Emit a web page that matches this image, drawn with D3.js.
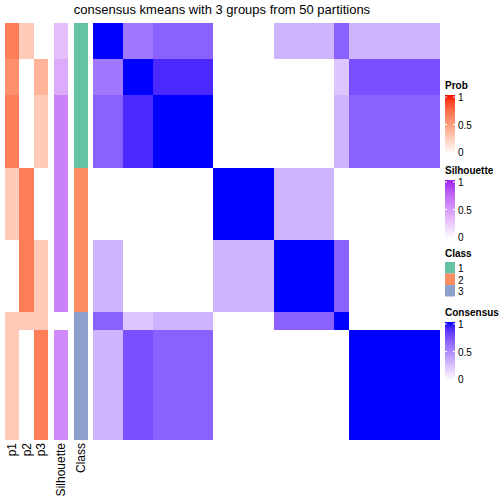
<!DOCTYPE html>
<html><head><meta charset="utf-8">
<script src="https://cdn.jsdelivr.net/npm/d3@7/dist/d3.min.js"></script>
<style>body{margin:0;background:#fff}svg{display:block}text{font-family:"Liberation Sans",Arial,sans-serif}rect.c{shape-rendering:crispEdges}</style>
</head><body>
<script>
// ---- data ----
const title = "consensus kmeans with 3 groups from 50 partitions";
// sample blocks (in display order) and number of samples in each block
const blocks = ["A","B","C","D","E","F","G"];
const blockSizes = [2,2,4,4,4,1,6];
const blockClass = [1,1,1,2,2,3,3];
const probP1 = [0.66,0.58,0.66,0.28,0,0.28,0.28];
const probP2 = [0.28,0,0,0.66,0.66,0.28,0];
const probP3 = [0,0.4,0.28,0,0.28,0.28,0.66];
const silhouette = [0.32,0.42,0.62,0.62,0.62,0,0.58];
// block-level consensus matrix
const consensus = [
  [1.00,0.58,0.68,0.00,0.32,0.68,0.32],
  [0.58,1.00,0.90,0.00,0.00,0.24,0.75],
  [0.68,0.90,1.00,0.00,0.00,0.32,0.68],
  [0.00,0.00,0.00,1.00,0.32,0.00,0.00],
  [0.32,0.00,0.00,0.32,1.00,0.68,0.00],
  [0.68,0.24,0.32,0.00,0.68,1.00,0.00],
  [0.32,0.75,0.68,0.00,0.00,0.00,1.00]
];
const classColors = {1:"#66C2A5",2:"#FC8D62",3:"#8DA0CB"};
const classLabels = ["1","2","3"];
const annNames = ["p1","p2","p3","Silhouette","Class"];
const legendTicks = [1,0.5,0];

// ---- expand blocks into samples ----
const samples = [];
blocks.forEach((b,i)=>{ for(let k=0;k<blockSizes[i];k++) samples.push({id:b+k, block:i}); });

const W=504,H=504;
const svg = d3.select("body").append("svg").attr("width",W).attr("height",H);

const x = d3.scaleBand().domain(samples.map(s=>s.id)).range([93,439]);
const y = d3.scaleBand().domain(samples.map(s=>s.id)).range([23,439]);

const probCol = d3.scaleLinear().domain([0,1]).range(["#ffffff","#ff0000"]).interpolate(d3.interpolateLab);
const silCol = d3.scaleLinear().domain([0,1]).range(["#ffffff","#A020F0"]).interpolate(d3.interpolateLab);
const consCol = d3.scaleLinear().domain([0,1]).range(["#ffffff","#0000ff"]).interpolate(d3.interpolateLab);

// heatmap
const cells=[];
samples.forEach(r=>samples.forEach(c=>cells.push({r,c,v:consensus[r.block][c.block]})));
svg.append("g").selectAll("rect").data(cells).join("rect").attr("class","c")
  .attr("x",d=>x(d.c.id)).attr("y",d=>y(d.r.id))
  .attr("width",x.bandwidth()+0.6).attr("height",y.bandwidth()+0.6)
  .attr("fill",d=>consCol(d.v));

// annotation columns
const px = d3.scaleBand().domain(["p1","p2","p3"]).range([5,48]);
const probArr = {p1:probP1,p2:probP2,p3:probP3};
const ag = svg.append("g");
["p1","p2","p3"].forEach(p=>{
  ag.append("g").selectAll("rect").data(samples).join("rect").attr("class","c")
    .attr("x",px(p)).attr("y",d=>y(d.id)).attr("width",px.bandwidth()+0.4).attr("height",y.bandwidth()+0.6)
    .attr("fill",d=>probCol(probArr[p][d.block]));
});
const ax = {Silhouette:[54,14], Class:[74,14]};
ag.append("g").selectAll("rect").data(samples).join("rect").attr("class","c")
  .attr("x",ax.Silhouette[0]).attr("y",d=>y(d.id)).attr("width",ax.Silhouette[1]).attr("height",y.bandwidth()+0.6)
  .attr("fill",d=>silCol(silhouette[d.block]));
ag.append("g").selectAll("rect").data(samples).join("rect").attr("class","c")
  .attr("x",ax.Class[0]).attr("y",d=>y(d.id)).attr("width",ax.Class[1]).attr("height",y.bandwidth()+0.6)
  .attr("fill",d=>classColors[blockClass[d.block]]);

// annotation names
const annX = {p1:px("p1")+px.bandwidth()/2, p2:px("p2")+px.bandwidth()/2, p3:px("p3")+px.bandwidth()/2,
  Silhouette:ax.Silhouette[0]+7, Class:ax.Class[0]+7};
annNames.forEach(n=>{
  svg.append("text").attr("transform",`translate(${annX[n]+4},443) rotate(-90)`)
    .attr("text-anchor","end").attr("font-size",12).text(n);
});

// title
svg.append("text").attr("x",222).attr("y",14).attr("text-anchor","middle").attr("font-size",13).text(title);

// legends
const defs = svg.append("defs");
function gradLegend(id, name, col, top){
  const g = svg.append("g");
  g.append("text").attr("x",445).attr("y",top).attr("font-size",10).attr("font-weight","bold").text(name);
  const lg = defs.append("linearGradient").attr("id",id).attr("x1",0).attr("y1",1).attr("x2",0).attr("y2",0);
  d3.range(0,1.01,0.1).forEach(t=>lg.append("stop").attr("offset",t).attr("stop-color",col(t)));
  const ly = d3.scaleLinear().domain([0,1]).range([top+63,top+8]);
  g.append("rect").attr("x",445).attr("y",ly(1)-2).attr("width",10).attr("height",ly(0)-ly(1)+4).attr("fill",`url(#${id})`);
  legendTicks.forEach(t=>{
    g.append("line").attr("x1",445).attr("x2",447).attr("y1",ly(t)).attr("y2",ly(t)).attr("stroke","#fff");
    g.append("line").attr("x1",453).attr("x2",455).attr("y1",ly(t)).attr("y2",ly(t)).attr("stroke","#fff");
    g.append("text").attr("x",458).attr("y",ly(t)+4).attr("font-size",10).text(t);
  });
}
gradLegend("gp","Prob",probCol,89);
gradLegend("gs","Silhouette",silCol,174);
gradLegend("gc","Consensus",consCol,316);
const cg = svg.append("g");
cg.append("text").attr("x",445).attr("y",257).attr("font-size",10).attr("font-weight","bold").text("Class");
classLabels.forEach((c,i)=>{
  cg.append("rect").attr("x",445).attr("y",262+i*11.5).attr("width",10).attr("height",11.5).attr("fill",classColors[c]);
  cg.append("text").attr("x",458).attr("y",262+i*11.5+10).attr("font-size",10).text(c);
});
</script>
</body></html>
